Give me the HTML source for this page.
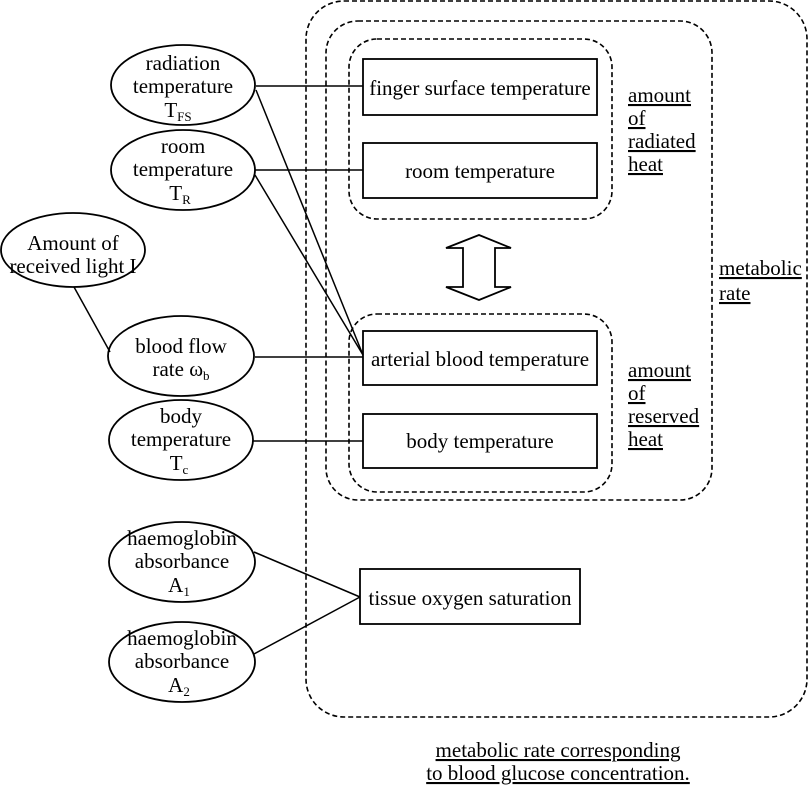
<!DOCTYPE html>
<html><head><meta charset="utf-8"><style>
html,body{margin:0;padding:0;background:#fff;}
svg{display:block;}
text{font-family:"Liberation Serif",serif;font-size:21px;fill:#000;}
</style></head><body>
<svg width="812" height="786" viewBox="0 0 812 786" xmlns="http://www.w3.org/2000/svg">
<g fill="none" stroke="#000" stroke-width="1.6" stroke-dasharray="5,3">
<rect x="306" y="1" width="501" height="716" rx="38"/>
<rect x="326" y="21" width="386" height="479" rx="32"/>
<rect x="349" y="39" width="263" height="180" rx="28"/>
<rect x="349" y="314" width="263" height="178" rx="28"/>
</g>
<g fill="none" stroke="#000" stroke-width="1.8">
<rect x="363" y="59" width="234" height="56"/>
<rect x="363" y="143" width="234" height="55"/>
<rect x="363" y="331" width="234" height="54"/>
<rect x="363" y="414" width="234" height="54"/>
<rect x="360" y="569" width="220" height="55"/>
<ellipse cx="183" cy="85" rx="72" ry="40"/>
<ellipse cx="183" cy="170" rx="72" ry="40"/>
<ellipse cx="73" cy="250" rx="72" ry="37"/>
<ellipse cx="181" cy="356" rx="73" ry="40"/>
<ellipse cx="181" cy="440" rx="72" ry="40"/>
<ellipse cx="182" cy="562" rx="73" ry="40"/>
<ellipse cx="182" cy="662" rx="73" ry="40"/>
<polygon points="479,235 511,248 495,248 495,287 511,287 479,300 446,287 463,287 463,248 446,248"/>
</g>
<g stroke="#000" stroke-width="1.5">
<line x1="256" y1="86" x2="363" y2="86"/>
<line x1="256" y1="90" x2="363" y2="355"/>
<line x1="255" y1="170" x2="363" y2="170"/>
<line x1="255" y1="175" x2="363" y2="355"/>
<line x1="74" y1="287" x2="110" y2="352"/>
<line x1="255" y1="357" x2="363" y2="357"/>
<line x1="253" y1="441" x2="363" y2="441"/>
<line x1="254" y1="552" x2="360" y2="597"/>
<line x1="254" y1="654" x2="360" y2="597"/>
</g>
<g text-anchor="middle">
<text x="183" y="70">radiation</text>
<text x="183" y="93">temperature</text>
<text x="178" y="117">T<tspan font-size="13" dy="4">FS</tspan></text>
<text x="183" y="153">room</text>
<text x="183" y="176">temperature</text>
<text x="180" y="200">T<tspan font-size="13" dy="4">R</tspan></text>
<text x="73" y="250">Amount of</text>
<text x="73" y="273">received light I</text>
<text x="181" y="353">blood flow</text>
<text x="181" y="376">rate ω<tspan font-size="13" dy="4">b</tspan></text>
<text x="181" y="423">body</text>
<text x="181" y="446">temperature</text>
<text x="179" y="470">T<tspan font-size="13" dy="4">c</tspan></text>
<text x="182" y="545">haemoglobin</text>
<text x="182" y="568">absorbance</text>
<text x="179" y="592">A<tspan font-size="13" dy="4">1</tspan></text>
<text x="182" y="645">haemoglobin</text>
<text x="182" y="668">absorbance</text>
<text x="179" y="692">A<tspan font-size="13" dy="4">2</tspan></text>
<text x="480" y="95">finger surface temperature</text>
<text x="480" y="178">room temperature</text>
<text x="480" y="366">arterial blood temperature</text>
<text x="480" y="448">body temperature</text>
<text x="470" y="605">tissue oxygen saturation</text>
<text x="558" y="757" text-decoration="underline">metabolic rate corresponding</text>
<text x="558" y="780" text-decoration="underline">to blood glucose concentration.</text>
</g>
<g text-decoration="underline">
<text x="628" y="102">amount</text>
<text x="628" y="125">of</text>
<text x="628" y="148">radiated</text>
<text x="628" y="171">heat</text>
<text x="628" y="377">amount</text>
<text x="628" y="400">of</text>
<text x="628" y="423">reserved</text>
<text x="628" y="446">heat</text>
<text x="719" y="275">metabolic</text>
<text x="719" y="300">rate</text>
</g>
</svg>
</body></html>
